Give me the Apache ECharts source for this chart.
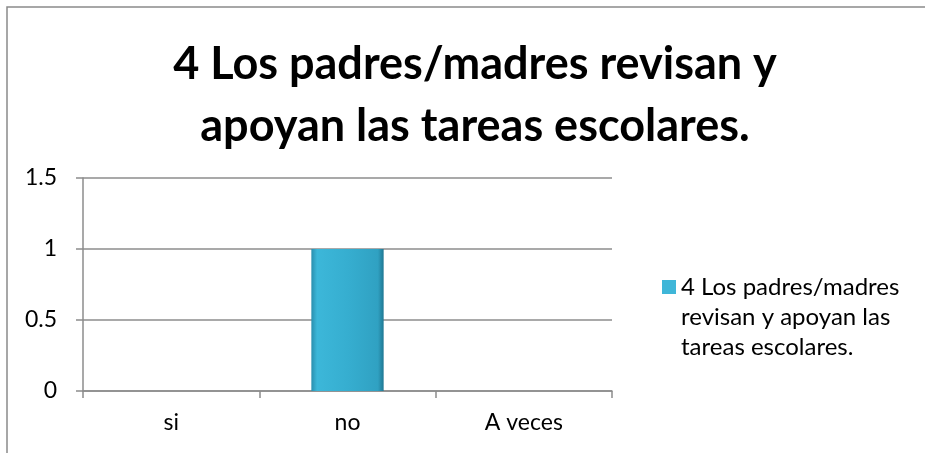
<!DOCTYPE html>
<html>
<head>
<meta charset="utf-8">
<script src="https://cdn.jsdelivr.net/npm/echarts@6/dist/echarts.min.js"></script>
<style>
  html, body { margin: 0; padding: 0; background: #fff; }
  #chart { width: 925px; height: 453px; }
</style>
</head>
<body>
<div id="chart"></div>
<script>
const chartTitle = '4 Los padres/madres revisan y\napoyan las tareas escolares.';
const seriesName = '4 Los padres/madres revisan y apoyan las tareas escolares.';
const legendText = '4 Los padres/madres\nrevisan y apoyan las\ntareas escolares.';
const categories = ['si', 'no', 'A veces'];
const values = [0, 1, 0];
const yTicks = [0, 0.5, 1, 1.5];

const fontFam = 'Lato, "Open Sans", sans-serif';
const gridColor = '#8c8c8c';

const chart = echarts.init(document.getElementById('chart'), null, { renderer: 'canvas' });

const option = {
    backgroundColor: '#fff',
    animation: false,
    title: {
        text: chartTitle,
        left: 470,
        textAlign: 'center',
        top: 28,
        textStyle: {
            fontFamily: fontFam,
            fontWeight: 'bold',
            fontSize: 45,
            lineHeight: 62,
            color: '#000'
        }
    },
    legend: {
        left: 657,
        top: 267,
        orient: 'vertical',
        itemWidth: 14,
        itemHeight: 74,
        itemGap: 0,
        // square at the top of a tall box so the icon lines up with the first text line
        icon: 'path://M0,0h14v14h-14zM0,74h14',
        formatter: function () { return legendText; },
        textStyle: {
            fontFamily: fontFam,
            fontSize: 24,
            lineHeight: 30,
            color: '#000'
        },
        data: [{
            name: seriesName,
            itemStyle: { color: '#3fb6d8', borderWidth: 0 }
        }]
    },
    grid: {
        left: 83,
        right: 313,
        top: 178,
        bottom: 62
    },
    xAxis: {
        type: 'category',
        data: categories,
        axisLine: { lineStyle: { color: gridColor, width: 1.5 } },
        axisTick: { show: true, length: 7, lineStyle: { color: gridColor, width: 1.5 } },
        axisLabel: {
            margin: 20,
            fontFamily: fontFam,
            fontSize: 23,
            color: '#000'
        },
        splitLine: { show: false }
    },
    yAxis: {
        type: 'value',
        min: yTicks[0],
        max: yTicks[yTicks.length - 1],
        interval: yTicks[1] - yTicks[0],
        axisLine: { show: true, lineStyle: { color: gridColor, width: 1.5 } },
        axisTick: { show: true, length: 7, lineStyle: { color: gridColor, width: 1.5 } },
        axisLabel: {
            margin: 26,
            fontFamily: fontFam,
            fontSize: 23,
            color: '#000'
        },
        splitLine: { lineStyle: { color: gridColor, width: 1.5 } }
    },
    series: [{
        name: seriesName,
        type: 'bar',
        data: values,
        barWidth: '41%',
        itemStyle: {
            color: new echarts.graphic.LinearGradient(0, 0, 1, 0, [
                { offset: 0, color: '#2a8fae' },
                { offset: 0.08, color: '#3cb7d9' },
                { offset: 0.5, color: '#36aed0' },
                { offset: 0.92, color: '#30a1c2' },
                { offset: 1, color: '#1f7893' }
            ]),
            borderWidth: 0
        }
    }],
    graphic: [{
        type: 'polyline',
        silent: true,
        shape: { points: [[925, 7], [7, 7], [7, 453]] },
        style: { stroke: '#8a8a8a', lineWidth: 1.5, fill: null }
    }]
};

chart.setOption(option);
window.addEventListener('resize', function () {
    chart.resize();
});
</script>
</body>
</html>
